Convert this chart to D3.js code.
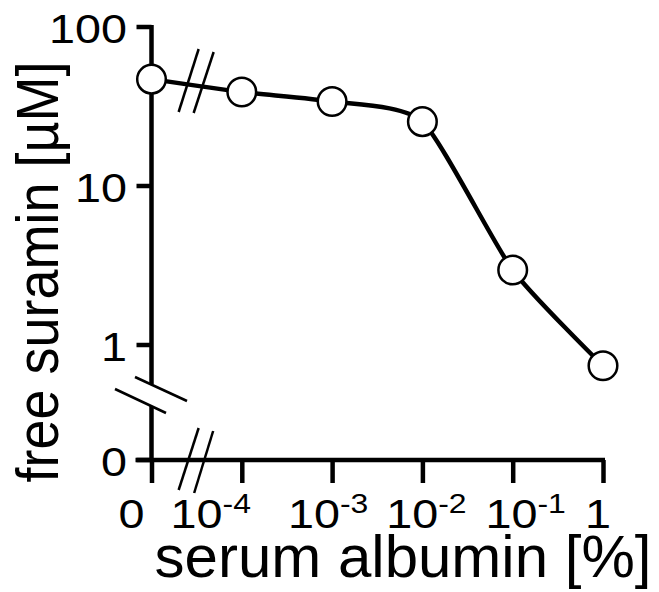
<!DOCTYPE html>
<html>
<head>
<meta charset="utf-8">
<title>free suramin vs serum albumin</title>
<script src="https://cdn.jsdelivr.net/npm/d3@7"></script>
<style>
  body { margin: 0; background: #fff; }
  text { font-family: "Liberation Sans", Arial, Helvetica, sans-serif; fill: #000; }
</style>
</head>
<body>
<script>
  // data
  var albumin = [0, 1e-4, 1e-3, 1e-2, 1e-1, 1];          // serum albumin [%]
  var suramin = [47, 39, 34, 25.4, 2.96, 0.74];         // free suramin [uM]

  var xTickBase = ["0", "10", "10", "10", "10", "1"];
  var xTickSup  = ["",  "-4", "-3", "-2", "-1", ""];
  var yTicks = [0, 1, 10, 100];
  var yTickLabels = ["0", "1", "10", "100"];

  var width = 659, height = 592;
  var yZero = 460;           // where 0 sits below the broken log axis
  var xLabelNudge = [-20, -31, -4, 4, 13, -5];

  var svg = d3.select("body").append("svg")
    .attr("width", width).attr("height", height);

  // 0 is drawn one decade left of 1e-4 (axis is broken there)
  var x = d3.scaleLog().domain([1e-5, 1]).range([151.5, 603]);
  var y = d3.scaleLog().domain([1, 100]).range([345, 27]);
  function xPos(v) { return x(v === 0 ? 1e-5 : v); }
  function yPos(v) { return v === 0 ? yZero : y(v); }

  var axisX = xPos(0);

  // x axis
  svg.append("line")
    .attr("x1", axisX - 16).attr("x2", xPos(1) + 2)
    .attr("y1", yZero).attr("y2", yZero)
    .attr("stroke", "#000").attr("stroke-width", 4.5);

  var xAxis = d3.axisBottom(x)
    .tickValues(albumin.map(function(d) { return d === 0 ? 1e-5 : d; }))
    .tickSize(23).tickSizeOuter(0).tickFormat("");
  var gx = svg.append("g").attr("transform", "translate(0," + yZero + ")").call(xAxis);
  gx.select(".domain").remove();
  gx.selectAll(".tick line").attr("stroke", "#000").attr("stroke-width", 4.5);

  // x tick labels with superscripts
  var xl = svg.append("g").selectAll("g")
    .data(albumin)
    .enter().append("g")
    .attr("transform", function(d, i) {
      return "translate(" + (xPos(d) + xLabelNudge[i]) + ",528) scale(1.14,1)";
    })
    .append("text")
    .attr("text-anchor", "middle")
    .attr("font-size", "41px");
  xl.append("tspan").text(function(d, i) { return xTickBase[i]; });
  xl.append("tspan")
    .attr("font-size", "28px")
    .attr("dy", -15)
    .text(function(d, i) { return xTickSup[i]; });

  // y axis (broken between 1 and 0)
  svg.append("line")
    .attr("x1", axisX).attr("x2", axisX)
    .attr("y1", y(100) - 2).attr("y2", 384)
    .attr("stroke", "#000").attr("stroke-width", 4.5);
  svg.append("line")
    .attr("x1", axisX).attr("x2", axisX)
    .attr("y1", 406).attr("y2", yZero)
    .attr("stroke", "#000").attr("stroke-width", 4.5);

  svg.append("g").selectAll("line")
    .data(yTicks)
    .enter().append("line")
    .attr("x1", axisX - 15).attr("x2", axisX)
    .attr("y1", function(d) { return yPos(d); })
    .attr("y2", function(d) { return yPos(d); })
    .attr("stroke", "#000").attr("stroke-width", 4.5);

  svg.append("g").selectAll("g")
    .data(yTicks)
    .enter().append("g")
    .attr("transform", function(d) { return "translate(127," + (yPos(d) + 16) + ") scale(1.14,1)"; })
    .append("text")
    .attr("text-anchor", "end")
    .attr("font-size", "41px")
    .text(function(d, i) { return yTickLabels[i]; });

  // break marks
  function slash(cx, cy, hx, hy) {
    svg.append("line")
      .attr("x1", cx - hx).attr("y1", cy - hy)
      .attr("x2", cx + hx).attr("y2", cy + hy)
      .attr("stroke", "#000").attr("stroke-width", 2.5);
  }
  var bx = (xPos(0) + xPos(1e-4)) / 2;
  slash(bx - 8, yZero - 1, 10, -31);
  slash(bx + 7, yZero + 2, 9.5, -31);
  slash(axisX + 9.5, 389, 26, 12);
  slash(axisX - 11, 401, 25.5, 12);

  // data line
  var pts = albumin.map(function(d, i) { return [xPos(d), yPos(suramin[i])]; });
  svg.append("path")
    .datum(pts)
    .attr("fill", "none")
    .attr("stroke", "#000")
    .attr("stroke-width", 4.5)
    .attr("d", d3.line().curve(d3.curveCardinal.tension(0.4)));

  slash(bx - 8, 80.5, 10, -31.5);
  slash(bx + 7, 82.5, 10, -30.5);

  svg.append("g").selectAll("circle")
    .data(pts)
    .enter().append("circle")
    .attr("cx", function(d) { return d[0]; })
    .attr("cy", function(d) { return d[1]; })
    .attr("r", 14.3)
    .attr("fill", "#fff")
    .attr("stroke", "#000")
    .attr("stroke-width", 2.5);

  // axis titles
  svg.append("text")
    .attr("x", 403).attr("y", 577)
    .attr("text-anchor", "middle")
    .attr("font-size", "60px")
    .text("serum albumin [%]");

  svg.append("g")
    .attr("transform", "translate(58,272) rotate(-90) scale(0.9,1)")
    .append("text")
    .attr("text-anchor", "middle")
    .attr("font-size", "60px")
    .text("free suramin [µM]");
</script>
</body>
</html>
